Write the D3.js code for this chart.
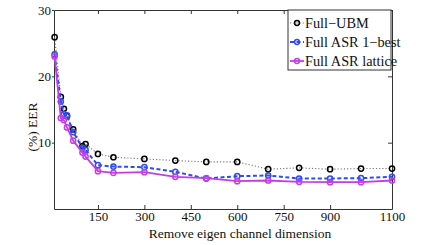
<!DOCTYPE html>
<html>
<head>
<meta charset="utf-8">
<script src="https://cdn.jsdelivr.net/npm/d3@7"></script>
<style>
  body { margin: 0; background: #fff; }
</style>
</head>
<body>
<div id="chart"></div>
<script>
// x positions (eigen channel dimension removed)
const dims = [10, 30, 40, 50, 70, 100, 110, 150, 200, 300, 400, 500, 600, 700, 800, 900, 1000, 1100];
const fullUbm = [25.9, 16.9, 15.1, 14.0, 12.0, 9.5, 9.8, 8.3, 7.8, 7.55, 7.3, 7.1, 7.1, 6.0, 6.2, 6.0, 6.1, 6.1];
const asr1best = [23.3, 16.2, 14.3, 14.1, 11.6, 9.2, 8.9, 6.6, 6.4, 6.3, 5.6, 4.6, 4.95, 5.05, 4.6, 4.6, 4.65, 4.85];
const asrLattice = [23.0, 13.7, 13.4, 12.3, 10.3, 8.5, 7.9, 5.7, 5.45, 5.55, 4.85, 4.65, 4.2, 4.3, 4.1, 4.05, 4.05, 4.3];
const xTicks = [150, 300, 450, 600, 750, 900, 1100];
const yTicks = [10, 20, 30];

const series = [
  {name: "Full\u2212UBM", values: fullUbm, color: "#000", line: "#777", dash: "1.2,2", width: 1.1},
  {name: "Full ASR 1\u2212best", values: asr1best, color: "#2f4cf0", line: "#2f4cf0", dash: "4,2.5", width: 2},
  {name: "Full ASR lattice", values: asrLattice, color: "#c23ee6", line: "#c23ee6", dash: null, width: 1.8}
];

const width = 436, height = 245;
const margin = {top: 10, right: 44, bottom: 36, left: 54};
const fontSize = 13;
const serif = "'Liberation Serif', 'DejaVu Serif', 'Times New Roman', serif";

const svg = d3.select("#chart").append("svg")
    .attr("width", width)
    .attr("height", height)
    .attr("font-family", serif);

const x = d3.scaleLinear().domain([8, 1100]).range([margin.left, width - margin.right]);
const y = d3.scaleLinear().domain([0, 30]).range([height - margin.bottom, margin.top]);

const axisColor = "#333";

// bottom / top / right ticks point inward, left ones stick out a little
svg.append("g")
    .attr("transform", `translate(0,${y(0)})`)
    .call(d3.axisBottom(x).tickValues(xTicks).tickFormat(d3.format("d")).tickSizeInner(-4).tickSizeOuter(0).tickPadding(3));
svg.append("g")
    .attr("transform", `translate(0,${y(30)})`)
    .call(d3.axisTop(x).tickValues(xTicks).tickSizeInner(-4).tickSizeOuter(0).tickFormat(""));
svg.append("g")
    .attr("transform", `translate(${x(8)},0)`)
    .call(d3.axisLeft(y).tickValues(yTicks).tickSizeInner(2).tickSizeOuter(0).tickPadding(1));
svg.append("g")
    .attr("transform", `translate(${x(1100)},0)`)
    .call(d3.axisRight(y).tickValues(yTicks).tickSizeInner(-4).tickSizeOuter(0).tickFormat(""));

svg.selectAll("g").attr("font-family", serif).attr("font-size", fontSize);
svg.selectAll(".tick text").attr("fill", "#111");
svg.selectAll(".domain, .tick line").attr("stroke", axisColor);

const line = d3.line()
    .x((d, i) => x(dims[i]))
    .y(d => y(d));

series.forEach(s => {
  svg.append("path")
      .datum(s.values)
      .attr("fill", "none")
      .attr("stroke", s.line)
      .attr("stroke-width", s.width)
      .attr("stroke-dasharray", s.dash)
      .attr("d", line);
  svg.append("g").selectAll("circle")
    .data(s.values)
    .join("circle")
      .attr("cx", (d, i) => x(dims[i]))
      .attr("cy", d => y(d))
      .attr("r", 2.6)
      .attr("fill", "none")
      .attr("stroke", s.color)
      .attr("stroke-width", 1.5);
});

// legend
const lg = svg.append("g").attr("transform", "translate(288,10)");
lg.append("rect")
    .attr("width", 103)
    .attr("height", 60)
    .attr("fill", "#fff")
    .attr("stroke", axisColor);
series.forEach((s, i) => {
  const yy = 13 + i * 19;
  lg.append("line")
      .attr("x1", 2).attr("x2", 16).attr("y1", yy).attr("y2", yy)
      .attr("stroke", s.line)
      .attr("stroke-width", s.width)
      .attr("stroke-dasharray", s.dash);
  lg.append("circle")
      .attr("cx", 9).attr("cy", yy).attr("r", 2.4)
      .attr("fill", "none").attr("stroke", s.color).attr("stroke-width", 1.5);
  lg.append("text")
      .attr("x", 17).attr("y", yy + 4.5)
      .attr("font-family", serif)
      .attr("font-size", 14.3)
      .attr("fill", "#111")
      .text(s.name);
});

svg.append("text")
    .attr("x", 240)
    .attr("y", 238)
    .attr("text-anchor", "middle")
    .attr("font-family", serif)
    .attr("font-size", 13.5)
    .attr("fill", "#111")
    .text("Remove eigen channel dimension");

svg.append("text")
    .attr("transform", `translate(37,127) rotate(-90)`)
    .attr("text-anchor", "middle")
    .attr("font-family", serif)
    .attr("font-size", 13.5)
    .attr("fill", "#111")
    .text("(%) EER");
</script>
</body>
</html>
